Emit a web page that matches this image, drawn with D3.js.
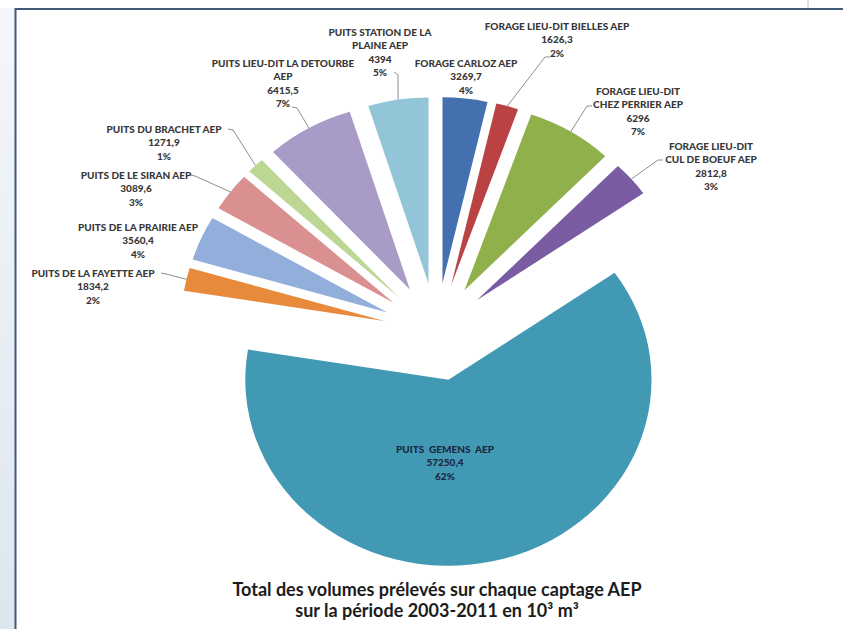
<!DOCTYPE html>
<html>
<head>
<meta charset="utf-8">
<script src="https://cdn.jsdelivr.net/npm/d3@7"></script>
<style>
  html, body { margin: 0; padding: 0; background: #fff; }
  text { font-family: Lato, "Open Sans", sans-serif; }
</style>
</head>
<body>
<svg id="chart"></svg>
<script>
// Captages, clockwise from 12 o'clock
const names = [
  "FORAGE CARLOZ AEP",
  "FORAGE LIEU-DIT BIELLES AEP",
  "FORAGE LIEU-DIT\nCHEZ PERRIER AEP",
  "FORAGE LIEU-DIT\nCUL DE BOEUF AEP",
  "PUITS  GEMENS  AEP",
  "PUITS DE LA FAYETTE AEP",
  "PUITS DE LA PRAIRIE AEP",
  "PUITS DE LE SIRAN AEP",
  "PUITS DU BRACHET AEP",
  "PUITS LIEU-DIT LA DETOURBE\nAEP",
  "PUITS STATION DE LA\nPLAINE AEP"
];
const values = [3269.7, 1626.3, 6296, 2812.8, 57250.4, 1834.2, 3560.4, 3089.6, 1271.9, 6415.5, 4394];
const colors = ["#4470b0", "#bb4242", "#8fb04a", "#7a5ca3", "#4299b4", "#e88a3c",
                "#92aedb", "#da9090", "#bcd693", "#a99bc7", "#92c5d8"];
const titleLines = ["Total des volumes prélevés sur chaque captage AEP", "sur la période 2003-2011 en 10³ m³"];

// label placement: centre x, first line y, optional leader start (stub) points
const labelPos = [
  { x: 466, y: 63 },
  { x: 557, y: 26, lead: [[550, 57], [545, 57]] },
  { x: 638, y: 91, lead: [[592, 106], [587, 106]] },
  { x: 711, y: 146, lead: [[663, 160], [658, 160]] },
  { x: 445, y: 449, inside: true },
  { x: 93, y: 273, lead: [[161, 273], [166, 274]] },
  { x: 138, y: 227 },
  { x: 136, y: 175, lead: [[190, 175], [195, 176]] },
  { x: 164, y: 129, lead: [[228, 129], [233, 130]] },
  { x: 283, y: 63, lead: [[292, 107], [297, 108]] },
  { x: 380, y: 32, lead: [[394, 72], [398, 75]] }
];

const width = 843, height = 629;
const cx = 436.5, cy = 332, R = 186, explode = 49, sx = 1.092;
const lineH = 13.6;

const svg = d3.select('#chart').attr('width', width).attr('height', height);

// frame and backdrop
const grad = svg.append('defs').append('linearGradient').attr('id', 'bg').attr('x1', 0).attr('x2', 0).attr('y1', 0).attr('y2', 1);
grad.append('stop').attr('offset', '0%').attr('stop-color', '#f4f7fa');
grad.append('stop').attr('offset', '100%').attr('stop-color', '#dde6ef');
svg.append('rect').attr('x', 0).attr('y', 8).attr('width', 15).attr('height', height - 8).attr('fill', 'url(#bg)');
svg.append('line').attr('x1', 808).attr('x2', 808).attr('y1', 0).attr('y2', 8).attr('stroke', '#b8bec6');
svg.append('path')
  .attr('d', `M${width + 2},9 H15.5 V${height + 2}`)
  .attr('fill', 'none').attr('stroke', '#3f5b78').attr('stroke-width', 2);

const total = d3.sum(values);
const pie = d3.pie().sort(null).value(d => d)(values);
const arc = d3.arc().innerRadius(0).outerRadius(R);
const mid = d => (d.startAngle + d.endAngle) / 2;

// slices
const g = svg.append('g').attr('transform', `translate(${cx},${cy}) scale(${sx},1)`);
g.selectAll('.slice')
  .data(pie)
  .join('path')
  .classed('slice', true)
  .attr('transform', d => `translate(${explode * Math.sin(mid(d))},${-explode * Math.cos(mid(d))})`)
  .attr('d', arc)
  .attr('fill', (d, i) => colors[i]);

// leader lines
const outerPt = d => [cx + sx * (R + explode) * Math.sin(mid(d)), cy - (R + explode) * Math.cos(mid(d))];
svg.selectAll('.leader')
  .data(pie.filter((d, i) => labelPos[i].lead))
  .join('path')
  .classed('leader', true)
  .attr('d', d => d3.line()(labelPos[d.index].lead.concat([outerPt(d)])))
  .attr('fill', 'none')
  .attr('stroke', '#8f8f8f')
  .attr('stroke-width', 1);

// labels
const fmt = v => String(v).replace('.', ',');
pie.forEach((d, i) => {
  const p = labelPos[i];
  const lines = names[i].split('\n').concat([fmt(values[i]), Math.round(values[i] / total * 100) + '%']);
  const t = svg.append('text')
    .attr('text-anchor', 'middle')
    .attr('font-size', 10)
    .attr('font-weight', 900)
    .attr('fill', p.inside ? '#1a2842' : '#383838')
    .style('white-space', 'pre');
  lines.forEach((l, k) => {
    t.append('tspan').attr('x', p.x).attr('y', p.y + k * lineH).attr('dy', '0.35em').text(l);
  });
});

// title
svg.selectAll('.title')
  .data(titleLines)
  .join('text')
  .classed('title', true)
  .attr('x', 437)
  .attr('y', (d, i) => 590 + i * 21)
  .attr('dy', '0.35em')
  .attr('text-anchor', 'middle')
  .attr('font-size', 18)
  .attr('font-weight', 'bold')
  .attr('fill', '#1c1c1c')
  .text(d => d);
</script>
</body>
</html>
